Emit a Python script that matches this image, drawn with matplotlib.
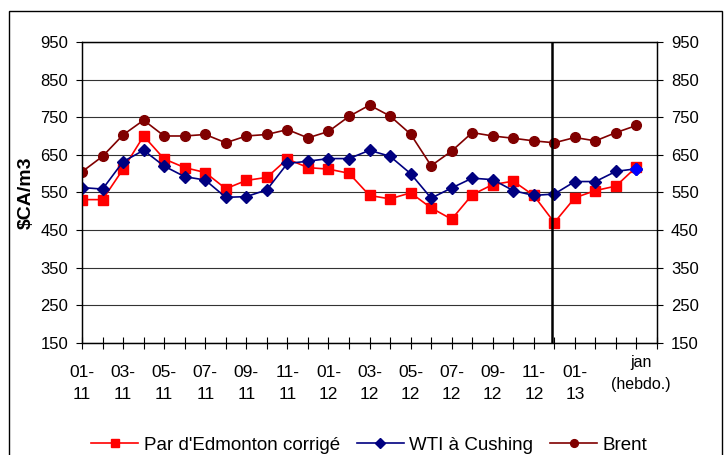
import matplotlib
matplotlib.use('Agg')
import matplotlib.pyplot as plt
from matplotlib.patches import Rectangle

plt.rcParams['font.family'] = ['Liberation Sans', 'DejaVu Sans']

# Monthly 01-11 .. 01-13, then weekly points for January 2013
edmonton = [531, 531, 612, 700, 639, 616, 603, 560, 582, 590, 639, 616, 612, 601,
            542, 533, 549, 509, 479, 544, 571, 580, 542, 470, 536, 555, 567, 618]
wti = [563, 559, 632, 662, 620, 592, 583, 537, 539, 557, 627, 633, 640, 640,
       662, 646, 600, 535, 562, 588, 584, 555, 542, 546, 579, 579, 606, 613]
brent = [605, 646, 703, 742, 700, 700, 704, 682, 700, 704, 717, 695, 712, 752,
         782, 753, 705, 621, 660, 709, 700, 694, 687, 682, 696, 687, 709, 728]

month_labels = ['01-\n11', '03-\n11', '05-\n11', '07-\n11', '09-\n11', '11-\n11',
                '01-\n12', '03-\n12', '05-\n12', '07-\n12', '09-\n12', '11-\n12',
                '01-\n13']
weekly_label = 'jan\n(hebdo.)'
y_ticks = [150, 250, 350, 450, 550, 650, 750, 850, 950]
series_names = ["Par d'Edmonton corrigé", 'WTI à Cushing', 'Brent']

n = len(brent)
x = list(range(n))

fig = plt.figure(figsize=(7.26, 4.55), dpi=100)
ax = fig.add_axes([0.113, 0.246, 0.792, 0.662])

# outer chart border
fig.patches.append(Rectangle((0.012, -0.01), 0.982, 0.986, transform=fig.transFigure,
                             fill=False, edgecolor='black', linewidth=1.0))

for yv in y_ticks:
    ax.axhline(yv, color='#333333', linewidth=0.8, zorder=1)

ax.plot(x, edmonton, color='#FF0000', marker='s', markersize=7, linewidth=1.2,
        label=series_names[0], zorder=3)
ax.plot(x, wti, color='#000080', marker='D', markersize=6, linewidth=1.2,
        label=series_names[1], zorder=4)
ax.plot(x[-1], wti[-1], color='#0000FF', marker='D', markersize=6, linestyle='none', zorder=4)
ax.plot(x, brent, color='#800000', marker='o', markersize=7, linewidth=1.2,
        label=series_names[2], zorder=5)

# separator between monthly and weekly data
ax.axvline(22.9, color='black', linewidth=1.8, zorder=6)

ax.set_xlim(0, n)
ax.set_ylim(150, 950)
ax.set_yticks(y_ticks)

xt = list(range(n + 1))
xl = [''] * (n + 1)
for i, lab in enumerate(month_labels):
    xl[2 * i] = lab
ax.set_xticks(xt)
ax.set_xticklabels(xl, fontsize=12.5, linespacing=1.6)
ax.tick_params(axis='x', direction='inout', length=9, width=0.8, pad=11)
ax.tick_params(axis='y', direction='out', length=4, width=0.8, labelsize=12, pad=6)
ax.text(n - 1 + 0.2, 118, weekly_label, ha='center', va='top', fontsize=11.5,
        linespacing=1.6, transform=ax.transData)

ax2 = ax.twinx()
ax2.set_ylim(150, 950)
ax2.set_yticks(y_ticks)
ax2.tick_params(axis='y', direction='out', length=4, width=0.8, labelsize=12, pad=6)

for a in (ax, ax2):
    for s in a.spines.values():
        s.set_linewidth(0.9)
        s.set_color('black')

ax.set_ylabel('$CA/m3', fontsize=14, fontweight='bold', labelpad=4)

leg = ax.legend(loc='upper center', bbox_to_anchor=(0.5, -0.285), ncol=3, frameon=False,
                fontsize=13.5, handlelength=2.5, handletextpad=0.3, columnspacing=0.9,
                markerscale=0.8, borderaxespad=0)

fig.savefig('out.png', dpi=100)
